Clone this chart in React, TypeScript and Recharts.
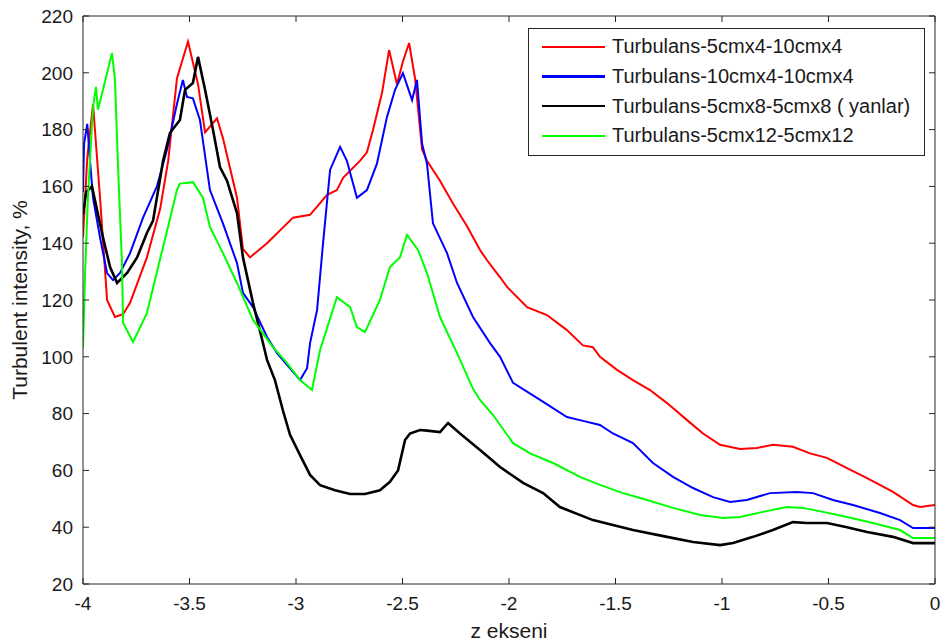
import React from 'react';
import { LineChart, Line, XAxis, YAxis, Legend } from 'recharts';

const xTicks = [-4, -3.5, -3, -2.5, -2, -1.5, -1, -0.5, 0];
const yTicks = [20, 40, 60, 80, 100, 120, 140, 160, 180, 200, 220];

const seriesNames = [
  'Turbulans-5cmx4-10cmx4',
  'Turbulans-10cmx4-10cmx4',
  'Turbulans-5cmx8-5cmx8 ( yanlar)',
  'Turbulans-5cmx12-5cmx12',
];
const seriesColors = ['#ff0000', '#0000ff', '#000000', '#00ff00'];

const redPts: number[][] = [
  [-4, 142], [-3.98, 170], [-3.953, 189], [-3.92, 156], [-3.887, 120], [-3.85, 114], [-3.812, 115],
  [-3.779, 119], [-3.7, 135], [-3.638, 152], [-3.6, 169], [-3.559, 198], [-3.507, 211], [-3.46, 196],
  [-3.427, 179], [-3.371, 184], [-3.343, 177], [-3.277, 156], [-3.249, 138], [-3.216, 135], [-3.136, 140],
  [-3.014, 149], [-2.934, 150], [-2.854, 157], [-2.808, 158.7], [-2.779, 163], [-2.7, 169], [-2.667, 172],
  [-2.638, 180], [-2.596, 193], [-2.563, 208], [-2.526, 196], [-2.498, 204], [-2.469, 210.5], [-2.441, 198],
  [-2.408, 173], [-2.385, 169], [-2.324, 162], [-2.263, 154], [-2.197, 146], [-2.136, 137.6], [-2.103, 134],
  [-2.042, 128], [-2.009, 124.6], [-1.915, 117.5], [-1.822, 114.7], [-1.728, 109.4], [-1.653, 104],
  [-1.606, 103.4], [-1.573, 100], [-1.493, 95.4], [-1.418, 91.8], [-1.338, 88.3], [-1.258, 83.7],
  [-1.164, 77.7], [-1.089, 73], [-1.009, 69], [-0.915, 67.5], [-0.836, 67.9], [-0.761, 69], [-0.667, 68.3],
  [-0.587, 66], [-0.507, 64.4], [-0.413, 60.8], [-0.319, 57.3], [-0.197, 52.4], [-0.103, 47.8],
  [-0.07, 47.1], [0, 47.8],
];

const bluePts: number[][] = [
  [-4, 158], [-3.995, 175], [-3.98, 182], [-3.967, 169], [-3.953, 156], [-3.92, 142], [-3.887, 129.5],
  [-3.859, 127], [-3.826, 129.5], [-3.779, 136.5], [-3.718, 149], [-3.653, 160], [-3.606, 172.8],
  [-3.559, 189], [-3.531, 197.5], [-3.512, 191.5], [-3.484, 191], [-3.451, 183.4], [-3.404, 158.7],
  [-3.343, 147], [-3.277, 133], [-3.249, 122.5], [-3.202, 117.5], [-3.136, 107], [-3.089, 101.3],
  [-2.981, 91.8], [-2.948, 96], [-2.934, 104.8], [-2.901, 116.5], [-2.873, 140], [-2.84, 165.8],
  [-2.793, 173.9], [-2.761, 169], [-2.714, 156], [-2.667, 158.7], [-2.62, 168], [-2.573, 184.4],
  [-2.535, 194], [-2.498, 199.9], [-2.455, 190.4], [-2.432, 197.5], [-2.408, 175], [-2.385, 168],
  [-2.357, 147], [-2.291, 136.5], [-2.244, 126], [-2.169, 114], [-2.089, 104.8], [-2.042, 100],
  [-1.981, 90.8], [-1.854, 84.8], [-1.728, 78.8], [-1.667, 77.7], [-1.573, 76], [-1.512, 73],
  [-1.418, 69.6], [-1.324, 62.6], [-1.23, 57.7], [-1.136, 53.8], [-1.042, 50.6], [-0.962, 48.9],
  [-0.883, 49.6], [-0.775, 52], [-0.648, 52.4], [-0.573, 52], [-0.479, 49.6], [-0.385, 47.8],
  [-0.258, 45], [-0.164, 42.5], [-0.103, 39.7], [0, 39.7],
];

const blackPts: number[][] = [
  [-4, 150], [-3.985, 158], [-3.958, 160], [-3.934, 151.7], [-3.906, 142], [-3.873, 131.6], [-3.84, 126],
  [-3.793, 129.5], [-3.746, 135], [-3.7, 143.6], [-3.671, 148], [-3.624, 169], [-3.592, 178.8],
  [-3.545, 183.4], [-3.521, 194], [-3.484, 196.4], [-3.46, 205.6], [-3.427, 194], [-3.39, 180],
  [-3.357, 166.8], [-3.324, 162], [-3.277, 150.6], [-3.249, 135], [-3.202, 119], [-3.155, 104.8],
  [-3.136, 98.9], [-3.099, 91.8], [-3.061, 81], [-3.028, 72.5], [-2.981, 65.4], [-2.934, 58.4],
  [-2.887, 54.8], [-2.817, 53], [-2.746, 51.7], [-2.676, 51.7], [-2.606, 53], [-2.559, 56], [-2.521, 60],
  [-2.488, 70.7], [-2.465, 73], [-2.418, 74.2], [-2.385, 74], [-2.324, 73.5], [-2.286, 76.7], [-2.23, 73],
  [-2.136, 67.2], [-2.042, 61.2], [-1.934, 55.6], [-1.84, 52], [-1.761, 47.1], [-1.606, 42.5],
  [-1.418, 39], [-1.258, 36.6], [-1.136, 34.8], [-1.009, 33.7], [-0.948, 34.4], [-0.854, 36.6],
  [-0.761, 39], [-0.667, 41.8], [-0.601, 41.5], [-0.507, 41.5], [-0.413, 40], [-0.319, 38.3],
  [-0.197, 36.6], [-0.103, 34.4], [0, 34.4],
];

const greenPts: number[][] = [
  [-4, 103], [-3.99, 130], [-3.977, 156], [-3.953, 188], [-3.939, 195], [-3.93, 187], [-3.906, 194],
  [-3.864, 207], [-3.85, 197.5], [-3.836, 168], [-3.817, 133], [-3.812, 112], [-3.765, 105.2],
  [-3.7, 115.4], [-3.624, 138.7], [-3.559, 158.7], [-3.545, 161], [-3.484, 161.5], [-3.437, 156],
  [-3.404, 145.7], [-3.343, 136.5], [-3.277, 126], [-3.202, 113], [-3.108, 103.4], [-3.042, 97.8],
  [-2.981, 91.8], [-2.925, 88.3], [-2.887, 102.4], [-2.808, 121], [-2.746, 117.5], [-2.714, 110.5],
  [-2.676, 108.7], [-2.606, 120], [-2.559, 131.6], [-2.512, 135], [-2.479, 142.9], [-2.427, 137.6],
  [-2.385, 129.5], [-2.324, 114], [-2.244, 101.3], [-2.169, 88.7], [-2.136, 84.8], [-2.075, 79.5],
  [-1.981, 69.6], [-1.901, 66], [-1.793, 62.6], [-1.667, 57.7], [-1.573, 54.9], [-1.465, 52],
  [-1.352, 49.6], [-1.23, 46.8], [-1.103, 44.3], [-0.995, 43.2], [-0.915, 43.6], [-0.808, 45.4],
  [-0.695, 47.1], [-0.62, 46.8], [-0.526, 45.4], [-0.413, 43.6], [-0.291, 41.5], [-0.164, 39],
  [-0.103, 36.2], [0, 36.2],
];

const toRows = (pts: number[][]) => pts.map(([x, y]) => ({ x, y }));
const allSeries = [redPts, bluePts, blackPts, greenPts].map(toRows);
const strokeWidths = [2, 2, 2.6, 2];

const FONT = '"Liberation Sans", Arial, Helvetica, sans-serif';
const TXT = '#1a1a1a';
const AX = '#262626';

const XTick = (p: any) => (
  <text x={p.x} y={p.y} dy="0.71em" textAnchor="middle" fontSize={19} fontFamily={FONT} fill={TXT}>
    {p.payload.value}
  </text>
);

const YTick = (p: any) => (
  <text x={p.x} y={p.y} dy="0.36em" textAnchor="end" fontSize={19} fontFamily={FONT} fill={TXT}>
    {p.payload.value}
  </text>
);

const YLabel = (p: any) => {
  const vb = p.viewBox || {};
  const cx = 27;
  const cy = (vb.y ?? 0) + (vb.height ?? 0) / 2;
  return (
    <text
      x={cx}
      y={cy}
      transform={`rotate(-90, ${cx}, ${cy})`}
      textAnchor="middle"
      fontSize={21}
      fontFamily={FONT}
      fill={TXT}
    >
      Turbulent intensity, %
    </text>
  );
};

const LegendBox = () => (
  <div
    style={{
      width: 395,
      height: 123,
      border: '1px solid #262626',
      background: '#fff',
      fontFamily: FONT,
      fontSize: 20,
      color: TXT,
      boxSizing: 'content-box',
      paddingTop: 3,
    }}
  >
    {seriesNames.map((n, i) => (
      <div key={n} style={{ display: 'flex', alignItems: 'center', height: 29.7, whiteSpace: 'nowrap' }}>
        <div style={{ width: 63, height: 2.5, background: seriesColors[i], marginLeft: 13, marginRight: 7 }} />
        <span>{n}</span>
      </div>
    ))}
  </div>
);

export default function App() {
  return (
    <div style={{ position: 'absolute', left: 0, top: 0, width: 940, height: 644, background: '#fff' }}>
      <LineChart width={940} height={644} margin={{ top: 0, right: 0, bottom: 0, left: 0 }}>
        <XAxis
          dataKey="x"
          type="number"
          domain={[-4, 0]}
          ticks={xTicks}
          allowDataOverflow
          height={60}
          stroke={AX}
          tickSize={-6}
          tickMargin={19}
          tick={<XTick />}
          label={{ value: 'z ekseni', position: 'insideBottom', offset: 6, fontSize: 21, fontFamily: FONT, fill: TXT }}
        />
        <XAxis
          xAxisId="top"
          orientation="top"
          dataKey="x"
          type="number"
          domain={[-4, 0]}
          ticks={xTicks}
          allowDataOverflow
          height={16}
          stroke={AX}
          tickSize={-6}
          tickFormatter={() => ''}
        />
        <YAxis
          type="number"
          domain={[20, 220]}
          ticks={yTicks}
          allowDataOverflow
          width={83}
          stroke={AX}
          tickSize={-6}
          tickMargin={16}
          tick={<YTick />}
          label={<YLabel />}
        />
        <YAxis
          yAxisId="right"
          orientation="right"
          type="number"
          domain={[20, 220]}
          ticks={yTicks}
          allowDataOverflow
          width={5}
          stroke={AX}
          tickSize={-6}
          tickFormatter={() => ''}
        />
        {allSeries.map((d, i) => (
          <Line
            key={seriesNames[i]}
            data={d}
            dataKey="y"
            name={seriesNames[i]}
            stroke={seriesColors[i]}
            strokeWidth={strokeWidths[i]}
            dot={false}
            activeDot={false}
            type="linear"
            isAnimationActive={false}
          />
        ))}
        <Legend
          layout="vertical"
          align="center"
          verticalAlign="middle"
          content={<LegendBox />}
          wrapperStyle={{ left: 528, top: 28, width: 397, height: 127 }}
        />
      </LineChart>
    </div>
  );
}
